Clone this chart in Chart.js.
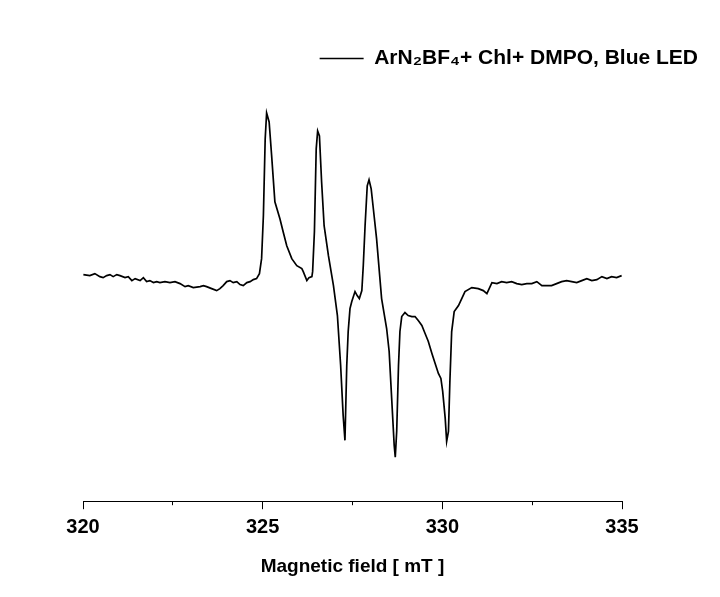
<!DOCTYPE html>
<html>
<head>
<meta charset="utf-8">
<script src="https://cdn.jsdelivr.net/npm/chart.js@4/dist/chart.umd.min.js"></script>
<style>
    body { margin: 0; background: #fff; }
    #wrap { width: 720px; height: 597px; }
</style>
</head>
<body>
<div id="wrap"><canvas id="epr"></canvas></div>
<script>
// EPR spectrum (field in mT, signal in arbitrary units)
const field = [
    320.01, 320.19, 320.33, 320.47, 320.56, 320.66, 320.75, 320.84, 320.94, 321.03,
    321.17, 321.26, 321.36, 321.45, 321.59, 321.68, 321.77, 321.86, 321.96, 322.05,
    322.14, 322.28, 322.42, 322.56, 322.70, 322.84, 322.93, 323.07, 323.26, 323.35,
    323.44, 323.58, 323.72, 323.81, 323.90, 324.00, 324.09, 324.18, 324.28, 324.37,
    324.46, 324.56, 324.65, 324.74, 324.83, 324.91, 324.97, 325.02, 325.07, 325.11,
    325.18, 325.25, 325.34, 325.48, 325.57, 325.67, 325.81, 325.95, 326.09, 326.13,
    326.23, 326.29, 326.37, 326.39, 326.44, 326.49, 326.53, 326.58, 326.64, 326.71,
    326.83, 326.97, 327.08, 327.17, 327.24, 327.29, 327.34, 327.38, 327.43, 327.48,
    327.57, 327.63, 327.69, 327.76, 327.80, 327.85, 327.91, 327.96, 328.02, 328.08,
    328.17, 328.31, 328.45, 328.52, 328.59, 328.66, 328.69, 328.73, 328.78, 328.82,
    328.87, 328.96, 329.05, 329.15, 329.24, 329.33, 329.43, 329.52, 329.61, 329.71,
    329.80, 329.89, 329.96, 330.01, 330.08, 330.12, 330.17, 330.21, 330.26, 330.33,
    330.45, 330.54, 330.63, 330.82, 331.00, 331.14, 331.24, 331.38, 331.52, 331.65,
    331.79, 331.93, 332.07, 332.21, 332.35, 332.49, 332.63, 332.77, 332.91, 333.04,
    333.18, 333.32, 333.46, 333.60, 333.74, 333.88, 334.02, 334.16, 334.30, 334.44,
    334.58, 334.71, 334.85, 334.99
];
const signal = [
    1, 0, 2, -1, -2, 0, 1, -1, 1, 0,
    -2, -1, -5, -3, -5, -2, -6, -5, -7, -6,
    -7, -6, -7, -6, -8, -11, -10, -12, -11, -10,
    -11, -13, -15, -13, -10, -6, -5, -7, -6, -9,
    -10, -7, -6, -4, -3, 2, 17, 60, 137, 163,
    154, 120, 74, 57, 44, 30, 17, 10, 7, 4,
    -5, -2, -1, 4, 44, 127, 145, 140, 94, 50,
    20, -10, -40, -90, -140, -165, -90, -56, -33, -26,
    -16, -20, -23, -15, 10, 50, 90, 96, 87, 67,
    37, -23, -53, -76, -123, -170, -182, -156, -90, -56,
    -41, -37, -40, -41, -41, -45, -50, -58, -66, -78,
    -88, -98, -103, -116, -143, -166, -156, -106, -56, -36,
    -30, -23, -16, -12, -13, -15, -18, -7, -8, -6,
    -7, -6, -8, -9, -8, -8, -6, -10, -10, -10,
    -8, -6, -5, -6, -7, -5, -3, -5, -4, -1,
    -3, -1, -2, 0
];
const seriesLabel = 'ArN\u2082BF\u2084+ Chl+ DMPO, Blue LED';
const majorTicks = [320, 325, 330, 335];

const points = field.map((x, i) => ({ x, y: signal[i] }));

const ctx = document.getElementById('epr');
const chart = new Chart(ctx, {
    type: 'line',
    data: {
        datasets: [{
            label: seriesLabel,
            data: points,
            borderColor: '#000',
            backgroundColor: '#000',
            borderWidth: 1.7,
            pointRadius: 0,
            tension: 0,
        }]
    },
    options: {
        responsive: true,
        maintainAspectRatio: false,
        animation: false,
        layout: { padding: { left: 83, right: 12, top: 38, bottom: 19 } },
        plugins: {
            tooltip: { enabled: false },
            legend: {
                position: 'top',
                align: 'end',
                labels: {
                    usePointStyle: true,
                    pointStyle: 'line',
                    pointStyleWidth: 44,
                    color: '#000',
                    font: { family: 'Arial, "Liberation Sans"', weight: 'bold', size: 21 },
                }
            }
        },
        scales: {
            x: {
                type: 'linear',
                min: 320,
                max: 335,
                afterBuildTicks: (s) => { s.ticks = majorTicks.map(v => ({ value: v })); },
                ticks: {
                    color: '#000',
                    padding: 6,
                    font: { family: 'Arial, "Liberation Sans"', weight: 'bold', size: 20 },
                },
                grid: { drawOnChartArea: false, drawTicks: true, tickLength: 8, color: '#000' },
                border: { display: true, color: '#000', width: 1 },
                title: {
                    display: true,
                    text: 'Magnetic field [ mT ]',
                    color: '#000',
                    padding: { top: 10, bottom: 0 },
                    font: { family: 'Arial, "Liberation Sans"', weight: 'bold', size: 19 },
                }
            },
            // minor ticks, shorter, sitting on the same axis line
            xMinor: {
                type: 'linear',
                position: 'bottom',
                weight: -1,
                min: 320,
                max: 335,
                ticks: { display: false, stepSize: 2.5 },
                grid: { drawOnChartArea: false, drawTicks: true, tickLength: 4, color: '#000' },
                border: { display: false },
                afterFit: (s) => { s.height = 0; }
            },
            y: {
                position: 'right',
                min: -226,
                max: 197,
                ticks: { display: false },
                grid: { display: false, drawTicks: false },
                border: { display: false },
                afterFit: (s) => { s.width = 86; }
            }
        }
    }
});
</script>
</body>
</html>
